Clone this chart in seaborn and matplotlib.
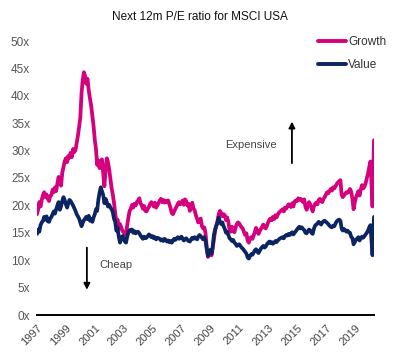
import numpy as np
import pandas as pd
import matplotlib
matplotlib.use("Agg")
import matplotlib.pyplot as plt
import seaborn as sns

# ---- data ----
growth_values = [
    18.4, 19.3, 20.6, 19.8, 21.0, 21.9, 22.4, 21.5, 22.0, 21.2, 20.8, 21.7,  # 1997
    21.9, 22.9, 22.4, 23.3, 22.6, 24.0, 25.2, 24.4, 23.6, 25.9, 27.0, 28.0,  # 1998
    28.6, 27.9, 29.0, 28.7, 29.6, 28.8, 30.3, 29.7, 30.1, 31.4, 32.7, 34.3,  # 1999
    36.0, 40.5, 42.8, 44.3, 43.6, 42.2, 43.1, 41.0, 39.5, 38.2, 36.3, 34.5,  # 2000
    32.0, 30.2, 27.4, 28.2, 26.8, 27.8, 28.4, 26.0, 23.5, 26.5, 28.6, 27.9,  # 2001
    26.5, 24.8, 23.2, 22.0, 20.5, 18.6, 16.8, 17.4, 15.8, 16.6, 16.0, 15.3,  # 2002
    15.2, 14.6, 14.8, 16.4, 17.8, 19.0, 19.4, 20.1, 19.6, 20.3, 20.0, 20.6,  # 2003
    20.9, 21.3, 20.4, 20.0, 19.4, 19.9, 19.0, 18.9, 19.4, 19.7, 20.3, 20.6,  # 2004
    20.2, 19.8, 20.5, 19.6, 20.0, 20.4, 20.9, 21.2, 20.6, 21.0, 20.5, 20.8,  # 2005
    20.6, 20.9, 20.2, 19.5, 18.6, 18.4, 18.9, 19.4, 19.8, 20.3, 20.6, 20.2,  # 2006
    20.5, 20.9, 20.1, 21.1, 20.8, 20.0, 20.3, 19.0, 19.6, 20.5, 19.4, 19.1,  # 2007
    18.2, 17.5, 16.9, 17.3, 17.6, 16.2, 15.8, 16.0, 14.9, 12.4, 10.6, 11.0,  # 2008
    11.3, 10.9, 12.2, 13.8, 15.4, 16.3, 17.2, 18.4, 19.0, 18.6, 18.0, 18.4,  # 2009
    18.2, 17.3, 17.8, 17.0, 15.6, 15.2, 16.1, 15.5, 15.1, 16.0, 16.6, 16.9,  # 2010
    16.7, 16.3, 16.0, 15.8, 15.1, 14.6, 14.9, 13.6, 13.2, 14.0, 14.2, 13.9,  # 2011
    14.5, 15.2, 15.9, 15.4, 14.8, 15.3, 15.7, 16.1, 16.5, 16.0, 15.8, 16.3,  # 2012
    16.9, 17.4, 17.6, 17.3, 17.9, 17.5, 18.2, 17.8, 18.3, 18.7, 18.9, 19.1,  # 2013
    19.3, 18.9, 19.6, 19.4, 19.8, 20.2, 20.0, 19.7, 20.4, 19.8, 20.7, 20.9,  # 2014
    20.8, 21.3, 21.0, 21.2, 20.9, 20.6, 21.1, 19.8, 19.2, 20.1, 20.6, 20.2,  # 2015
    19.5, 18.9, 19.8, 20.3, 20.5, 20.2, 21.0, 21.2, 20.8, 20.6, 21.2, 21.5,  # 2016
    22.0, 22.4, 22.2, 22.6, 23.0, 22.7, 23.3, 23.1, 23.5, 23.9, 24.2, 24.4,  # 2017
    24.6, 22.0, 21.5, 21.8, 22.1, 22.4, 22.3, 22.6, 23.0, 22.5, 21.2, 19.3,  # 2018
    20.6, 21.5, 22.0, 22.6, 21.8, 22.9, 23.7, 23.1, 23.4, 24.0, 25.0, 25.8,  # 2019
    27.0, 28.0, 19.8, 31.9,                                                  # 2020
]
value_values = [
    14.8, 15.6, 15.2, 16.4, 16.9, 17.2, 17.9, 17.4, 18.0, 17.1, 17.0, 17.6,  # 1997
    17.9, 18.4, 18.9, 18.5, 19.3, 20.0, 20.6, 19.2, 19.8, 20.8, 21.5, 21.0,  # 1998
    20.2, 19.6, 20.3, 21.0, 20.8, 20.4, 20.0, 19.5, 19.0, 18.4, 18.0, 17.6,  # 1999
    16.9, 16.2, 16.8, 17.3, 17.6, 17.9, 17.5, 18.1, 17.2, 17.5, 17.0, 17.8,  # 2000
    18.4, 19.3, 19.0, 21.0, 22.3, 23.3, 22.6, 21.9, 20.4, 21.2, 20.6, 19.8,  # 2001
    20.1, 19.6, 19.3, 18.8, 17.6, 17.0, 15.4, 15.9, 14.2, 13.2, 14.0, 14.4,  # 2002
    13.9, 13.4, 13.2, 14.3, 15.1, 15.5, 15.3, 15.6, 15.0, 15.3, 14.9, 15.1,  # 2003
    15.2, 14.9, 14.5, 14.2, 13.9, 14.3, 14.0, 14.1, 14.4, 14.7, 14.5, 14.2,  # 2004
    14.4, 14.0, 14.2, 13.8, 14.1, 14.0, 13.9, 13.6, 13.8, 13.5, 13.9, 13.7,  # 2005
    13.4, 13.6, 13.3, 13.5, 13.2, 13.6, 13.9, 13.7, 14.0, 14.2, 13.9, 14.1,  # 2006
    14.3, 13.9, 13.6, 13.8, 14.0, 13.7, 13.5, 13.4, 13.8, 14.1, 13.9, 14.2,  # 2007
    14.0, 13.8, 14.3, 14.6, 14.4, 14.1, 13.8, 14.2, 13.6, 12.0, 10.8, 11.6,  # 2008
    11.9, 11.2, 12.5, 14.6, 15.6, 16.3, 16.8, 17.8, 17.0, 16.6, 16.9, 16.2,  # 2009
    15.7, 15.0, 15.2, 14.6, 14.0, 13.8, 13.5, 13.7, 13.2, 13.0, 12.6, 12.8,  # 2010
    12.9, 12.6, 12.3, 12.1, 11.8, 11.5, 11.2, 10.5, 10.3, 10.8, 11.1, 11.0,  # 2011
    11.4, 11.8, 12.0, 11.6, 11.3, 11.7, 12.1, 12.4, 12.6, 12.3, 12.5, 12.9,  # 2012
    13.2, 13.4, 13.1, 13.3, 13.0, 13.2, 13.5, 13.3, 13.6, 13.8, 14.0, 14.1,  # 2013
    14.2, 14.0, 14.4, 14.6, 14.5, 14.8, 14.6, 14.9, 15.1, 14.7, 15.0, 15.3,  # 2014
    15.6, 15.9, 16.1, 15.8, 16.0, 15.7, 15.5, 15.0, 14.9, 15.3, 15.6, 15.4,  # 2015
    15.0, 14.8, 15.7, 16.3, 16.5, 16.7, 17.0, 16.8, 16.5, 16.9, 17.1, 17.2,  # 2016
    17.0, 16.8, 16.6, 16.3, 16.1, 16.0, 16.3, 16.2, 16.7, 17.1, 17.3, 17.4,  # 2017
    17.2, 15.8, 15.4, 15.7, 15.5, 15.2, 15.4, 15.1, 15.0, 14.3, 14.0, 12.9,  # 2018
    13.3, 13.8, 13.9, 14.2, 13.6, 14.0, 14.3, 14.1, 14.4, 14.7, 15.0, 15.4,  # 2019
    16.0, 16.4, 10.9, 17.9,                                                  # 2020
]
dates = list(pd.date_range("1997-01-01", "2020-02-01", freq="MS")) + \
    list(pd.to_datetime(["2020-03-23", "2020-04-30"]))
series_names = ["Growth", "Value"]
tick_years = [1997, 1999, 2001, 2003, 2005, 2007, 2009, 2011, 2013, 2015, 2017, 2019]
y_ticks = [0, 5, 10, 15, 20, 25, 30, 35, 40, 45, 50]
title = "Next 12m P/E ratio for MSCI USA"

df = pd.DataFrame({
    "date": dates * 2,
    "pe": growth_values + value_values,
    "series": [series_names[0]] * len(dates) + [series_names[1]] * len(dates),
})

sns.set_style("white")
plt.rcParams["font.family"] = ["Liberation Sans", "DejaVu Sans"]

W, H = 400, 359
fig = plt.figure(figsize=(W / 100, H / 100), dpi=100)
ax = fig.add_axes([37 / W, 1 - 315 / H, (374 - 37) / W, (315 - 41) / H])

palette = {"Growth": "#d4007d", "Value": "#0b2462"}
sns.lineplot(data=df, x="date", y="pe", hue="series", palette=palette,
             linewidth=2.7, ax=ax, legend=True)

ax.set_xlim(pd.Timestamp("1997-01-01"), pd.Timestamp("2020-04-30"))
ax.set_ylim(0, 50)
ax.set_xlabel("")
ax.set_ylabel("")
ax.set_yticks(y_ticks)
ax.set_yticklabels([f"{v}x" for v in y_ticks], fontsize=8.5, color="#555555")
ax.set_xticks(pd.to_datetime([f"{y}-01-01" for y in tick_years]))
ax.set_xticklabels([str(y) for y in tick_years], rotation=45, ha="right",
                   rotation_mode="anchor", fontsize=8, color="#444444")
ax.tick_params(axis="y", length=0, pad=5)
ax.tick_params(axis="x", direction="inout", length=5, width=1.3, color="black", pad=3)
for s in ["top", "right", "left"]:
    ax.spines[s].set_visible(False)
ax.spines["bottom"].set_linewidth(1.4)
ax.spines["bottom"].set_color("black")

leg = ax.legend(loc="upper left", bbox_to_anchor=(318 / W, 1 - 36 / H),
                bbox_transform=fig.transFigure, frameon=False, fontsize=8.5,
                handlelength=2.4, handletextpad=0.15, labelspacing=0.95,
                borderpad=0, borderaxespad=0)
for line in leg.get_lines():
    line.set_linewidth(2.8)
for t in leg.get_texts():
    t.set_color("#333333")

fig.text(0.5, 1 - 17 / H, title, ha="center", va="center", fontsize=8.5, color="#111111")

# annotations
ax.annotate("", xy=(pd.Timestamp("2014-08-25"), 35.8), xytext=(pd.Timestamp("2014-08-25"), 27.2),
            arrowprops=dict(arrowstyle="-|>", color="black", lw=1.3, mutation_scale=9))
ax.text(pd.Timestamp("2011-10-15"), 31.0, "Expensive", ha="center", va="center",
        fontsize=8, color="#444444")
ax.annotate("", xy=(pd.Timestamp("2000-06-15"), 4.1), xytext=(pd.Timestamp("2000-06-15"), 12.8),
            arrowprops=dict(arrowstyle="-|>", color="black", lw=1.3, mutation_scale=9))
ax.text(pd.Timestamp("2001-05-01"), 9.1, "Cheap", ha="left", va="center",
        fontsize=8, color="#444444")

fig.savefig("out.png", dpi=100)
